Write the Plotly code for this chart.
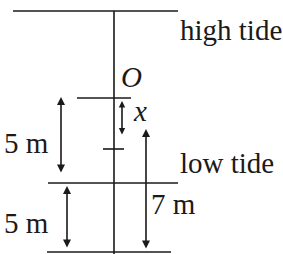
import plotly.graph_objects as go

# Labels and quantities shown in the diagram
level_labels = ["high tide", "low tide"]
distance_labels = ["5 m", "5 m", "7 m"]
point_labels = ["O", "x"]

W, H = 283, 254
INK = "#1a1a1a"
FONT = "Times New Roman, Liberation Serif, DejaVu Serif, serif"

fig = go.Figure()

# horizontal levels: (x0, x1, y)
hlines = [(13, 178, 11), (77, 131, 98), (103, 124, 149), (48, 178, 183), (47, 171, 252)]
shapes = []
for x0, x1, y in hlines:
    shapes.append(dict(type="line", x0=x0, x1=x1, y0=y, y1=y, xref="x", yref="y",
                       line=dict(color=INK, width=1.6)))
# vertical pole
shapes.append(dict(type="line", x0=114, x1=114, y0=11, y1=256, xref="x", yref="y",
                   line=dict(color=INK, width=1.6)))

annotations = []
# double-headed arrows: (x, y_top, y_bottom)
arrows = [(61, 97, 174, 1.0), (67, 186, 249, 1.0), (146, 129, 250, 1.0), (122, 101, 136, 0.8)]
for x, yt, yb, sz in arrows:
    annotations.append(dict(x=x, y=yt, ax=x, ay=yb, xref="x", yref="y", axref="x", ayref="y",
                            text="", showarrow=True, arrowhead=2, startarrowhead=2,
                            arrowside="end+start", arrowsize=sz, startarrowsize=sz,
                            arrowwidth=1.6, arrowcolor=INK))

def label(text, x, y, italic=False, anchor="left"):
    annotations.append(dict(x=x, y=y, xref="x", yref="y", text=text, showarrow=False,
                            xanchor=anchor, yanchor="middle",
                            font=dict(family=FONT, size=29, color=INK,
                                      style="italic" if italic else "normal")))

label(level_labels[0], 178, 30)
label(level_labels[1], 178, 163)
label(distance_labels[0], 2, 143)
label(distance_labels[1], 2, 223)
label(distance_labels[2], 149, 204)
label(point_labels[0], 119, 77, italic=True)
label(point_labels[1], 131, 111, italic=True)

fig.update_layout(
    width=W, height=H, margin=dict(l=0, r=0, t=0, b=0),
    paper_bgcolor="white", plot_bgcolor="white",
    xaxis=dict(range=[0, W], visible=False, fixedrange=True),
    yaxis=dict(range=[H, 0], visible=False, fixedrange=True),
    shapes=shapes, annotations=annotations, showlegend=False,
)
fig.write_html("out.html", config={"displayModeBar": False},
               post_script="document.body.style.margin='0px';document.body.style.overflow='hidden';")
